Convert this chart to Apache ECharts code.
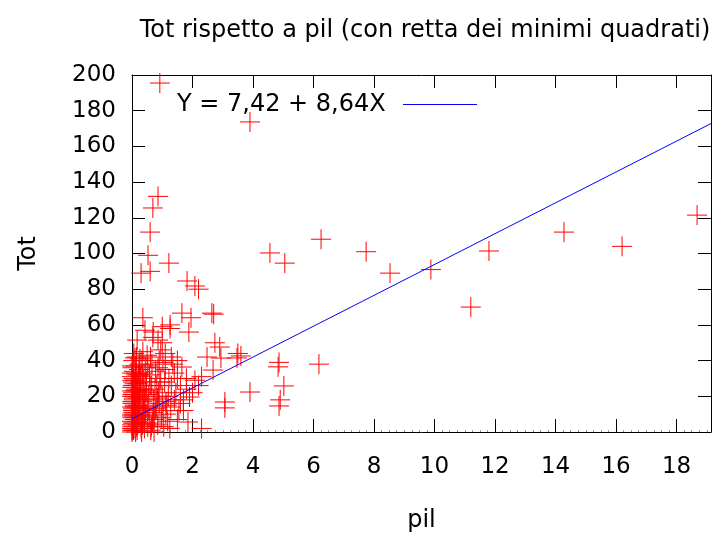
<!DOCTYPE html>
<html>
<head>
<meta charset="utf-8">
<title>Tot rispetto a pil</title>
<script src="https://cdn.jsdelivr.net/npm/echarts@6/dist/echarts.min.js"></script>
<style>
  html, body { margin: 0; padding: 0; background: #fff; }
  #chart { width: 713px; height: 534px; }
</style>
</head>
<body>
<div id="chart"></div>
<script>
// valori: pil (x), Tot (y)
const pilTot = [
  // punti isolati
  [0.92, 195.5], [3.9, 173.7], [0.86, 132], [0.69, 125.5], [0.6, 112], [0.53, 99],
  [1.22, 94.6], [0.3, 89], [0.6, 90], [1.82, 84.6], [2.08, 81.8], [2.2, 80],
  [4.56, 100.3], [5.05, 94.6], [6.25, 108], [7.74, 101], [8.53, 89], [9.88, 91],
  [11.2, 70], [11.8, 101.4], [14.28, 112], [16.2, 104], [18.68, 121.5],
  [6.18, 38], [4.86, 39], [4.83, 36.5], [5.02, 25.8], [4.86, 14.6], [4.9, 18],
  [3.9, 22.4], [3.07, 16.8], [3.07, 13.5], [2.3, 2], [1.85, 5.6],
  // zona intermedia
  [1.65, 66.6], [1.95, 64], [2.64, 66.6], [2.7, 66], [1.88, 56], [1.26, 58],
  [2.74, 50], [2.9, 47.6], [2.48, 42], [2.94, 41.4], [3.5, 44], [3.6, 42.6],
  [3.47, 41.5], [2.68, 34.7], [2.3, 31], [2.08, 29], [1.8, 30], [1.65, 36.4],
  [1.7, 18], [1.9, 19.6], [0.36, 64], [1.0, 59], [1.26, 60], [0.7, 56], [1.0, 50],
  [0.17, 51.5], [0.36, 45], [0.43, 57], [0.86, 51.5], [0.69, 53], [0.1, 41.5], [0, 37],
  [0.5, 43], [1.1, 44], [0.9, 40], [1.5, 40], [1.3, 42], [0.95, 46], [1.6, 26],
  [1.7, 12], [2.0, 22], [2.2, 26], [1.5, 30], [1.8, 24],
  // nuvola vicino all'origine
  [0, 0], [0, 2], [0, 4], [0, 6], [0.02, 8], [0.01, 10], [0.03, 12], [0, 14],
  [0.02, 16], [0.05, 18], [0, 20], [0.04, 22], [0.01, 25], [0.03, 28], [0, 31],
  [0.06, 34], [0.02, 3], [0.05, 1], [0.08, 5], [0.07, 9], [0.04, 13], [0.09, 15],
  [0.06, 19], [0.1, 23], [0.08, 27], [0.05, 30],
  [0.12, 0], [0.15, 3], [0.18, 6], [0.13, 8], [0.2, 11], [0.16, 14], [0.22, 17],
  [0.14, 21], [0.25, 24], [0.19, 27], [0.28, 31], [0.23, 35], [0.3, 2], [0.27, 7],
  [0.11, 12], [0.26, 13], [0.21, 19], [0.29, 22], [0.17, 26], [0.12, 33], [0.24, 38],
  [0.32, 0], [0.35, 4], [0.4, 7], [0.45, 10], [0.38, 13], [0.5, 15], [0.42, 18],
  [0.55, 21], [0.36, 24], [0.48, 28], [0.58, 32], [0.44, 36], [0.33, 40], [0.52, 3],
  [0.57, 8], [0.41, 2], [0.47, 23], [0.6, 26], [0.39, 30], [0.53, 12], [0.34, 17],
  [0.62, 1], [0.68, 5], [0.75, 9], [0.8, 14], [0.72, 18], [0.88, 22], [0.65, 26],
  [0.95, 30], [0.78, 34], [0.7, 11], [0.85, 4], [0.9, 16], [0.66, 38], [0.82, 26],
  [0.98, 8], [0.73, 0],
  [1.05, 3], [1.12, 10], [1.2, 20], [1.3, 26], [1.4, 33], [1.15, 15], [1.5, 7],
  [1.08, 28], [1.35, 38], [1.25, 2], [1.45, 22], [1.55, 12], [1.1, 35], [1.12, 17],
  [0.01, 1], [0.03, 5], [0, 9], [0.04, 11], [0.01, 17], [0.02, 21], [0, 23],
  [0.03, 26], [0.01, 29], [0, 33], [0.02, 36], [0.04, 40], [0.06, 44],
  [0.07, 2], [0.09, 7], [0.1, 10], [0.08, 14], [0.11, 17], [0.09, 20], [0.13, 24],
  [0.1, 29], [0.14, 32], [0.12, 37], [0.15, 42],
  [0.17, 1], [0.19, 4], [0.22, 9], [0.2, 15], [0.24, 20], [0.18, 23], [0.27, 28],
  [0.21, 32], [0.26, 41],
  [0.31, 5], [0.37, 9], [0.43, 14], [0.4, 20], [0.46, 26], [0.35, 33], [0.52, 37], [0.61, 42],
  [0.64, 3], [0.7, 7], [0.77, 13], [0.84, 19], [0.76, 24], [0.92, 28], [0.86, 36],
  [1.0, 20], [1.03, 12], [1.18, 6], [1.28, 14], [1.4, 18], [1.6, 16], [1.22, 30], [1.02, 39]
]

// retta dei minimi quadrati (estremi)
const rettaX = [0, 19.14]
const rettaY = [7.42, 172.8]

const xTicks = [0, 2, 4, 6, 8, 10, 12, 14, 16, 18]
const yTicks = [0, 20, 40, 60, 80, 100, 120, 140, 160, 180, 200]

const FONT = 'DejaVu Sans'
const crossPath = 'path://M0,10L20,10M10,0L10,20'

const myChart = echarts.init(document.getElementById('chart'))

const tickStyle = { color: '#000', width: 1 }
const lineStyle = { show: true, onZero: false, lineStyle: { color: '#000', width: 1 } }
const xRange = { type: 'value', min: 0, max: rettaX[1], interval: 2 }
const yRange = { type: 'value', min: 0, max: 200, interval: 20 }

const option = {
  animation: false,
  textStyle: { fontFamily: FONT },
  title: {
    text: 'Tot rispetto a pil (con retta dei minimi quadrati)',
    left: 420,
    top: 14,
    textAlign: 'center',
    textStyle: { fontFamily: FONT, fontSize: 24, fontWeight: 'normal', color: '#000' }
  },
  grid: {
    left: 132, top: 75, right: 2, bottom: 102,
    show: false, containLabel: false, outerBoundsMode: 'none'
  },
  xAxis: [
    {
      ...xRange,
      position: 'bottom',
      name: 'pil',
      nameLocation: 'middle',
      nameGap: 77,
      nameTextStyle: { fontFamily: FONT, fontSize: 24, color: '#000' },
      axisLine: lineStyle,
      axisTick: { show: true, inside: true, length: 13, lineStyle: tickStyle },
      minorTick: { show: true, splitNumber: 8, length: 2, lineStyle: { color: '#999' } },
      axisLabel: {
        margin: 24, fontFamily: FONT, fontSize: 23, color: '#000',
        formatter: v => (xTicks.includes(v) ? String(v) : ''),
        showMaxLabel: false
      },
      splitLine: { show: false }
    },
    {
      ...xRange,
      position: 'top',
      axisLine: lineStyle,
      axisTick: { show: true, inside: true, length: 13, lineStyle: tickStyle },
      axisLabel: { show: false },
      splitLine: { show: false }
    }
  ],
  yAxis: [
    {
      ...yRange,
      position: 'left',
      name: 'Tot',
      nameLocation: 'middle',
      nameGap: 91,
      nameRotate: 90,
      nameTextStyle: { fontFamily: FONT, fontSize: 24, color: '#000' },
      axisLine: lineStyle,
      axisTick: { show: true, inside: true, length: 13, lineStyle: tickStyle },
      axisLabel: {
        margin: 16, fontFamily: FONT, fontSize: 23, color: '#000',
        formatter: v => (yTicks.includes(v) ? String(v) : '')
      },
      splitLine: { show: false }
    },
    {
      ...yRange,
      position: 'right',
      axisLine: lineStyle,
      axisTick: { show: true, inside: true, length: 13, lineStyle: tickStyle },
      axisLabel: { show: false },
      splitLine: { show: false }
    }
  ],
  graphic: [
    {
      type: 'text',
      left: 177,
      top: 93,
      style: { text: 'Y = 7,42 + 8,64X', fontFamily: FONT, fontSize: 24, fill: '#000' }
    },
    {
      type: 'line',
      shape: { x1: 403, y1: 104.5, x2: 477, y2: 104.5 },
      style: { stroke: '#0000ff', lineWidth: 1 }
    }
  ],
  series: [
    {
      name: 'Tot',
      type: 'scatter',
      xAxisIndex: 0,
      yAxisIndex: 0,
      data: pilTot,
      symbol: crossPath,
      symbolSize: 20,
      clip: false,
      itemStyle: { color: 'none', borderColor: '#ff0000', borderWidth: 1, opacity: 1 },
      z: 2
    },
    {
      // stessa scala, agganciata agli assi speculari (alto/destra)
      name: 'Y = 7,42 + 8,64X',
      type: 'line',
      xAxisIndex: 1,
      yAxisIndex: 1,
      data: [[rettaX[0], rettaY[0]], [rettaX[1], rettaY[1]]],
      showSymbol: false,
      lineStyle: { color: '#0000ff', width: 1 },
      z: 3
    }
  ]
}

myChart.setOption(option)
</script>
</body>
</html>
